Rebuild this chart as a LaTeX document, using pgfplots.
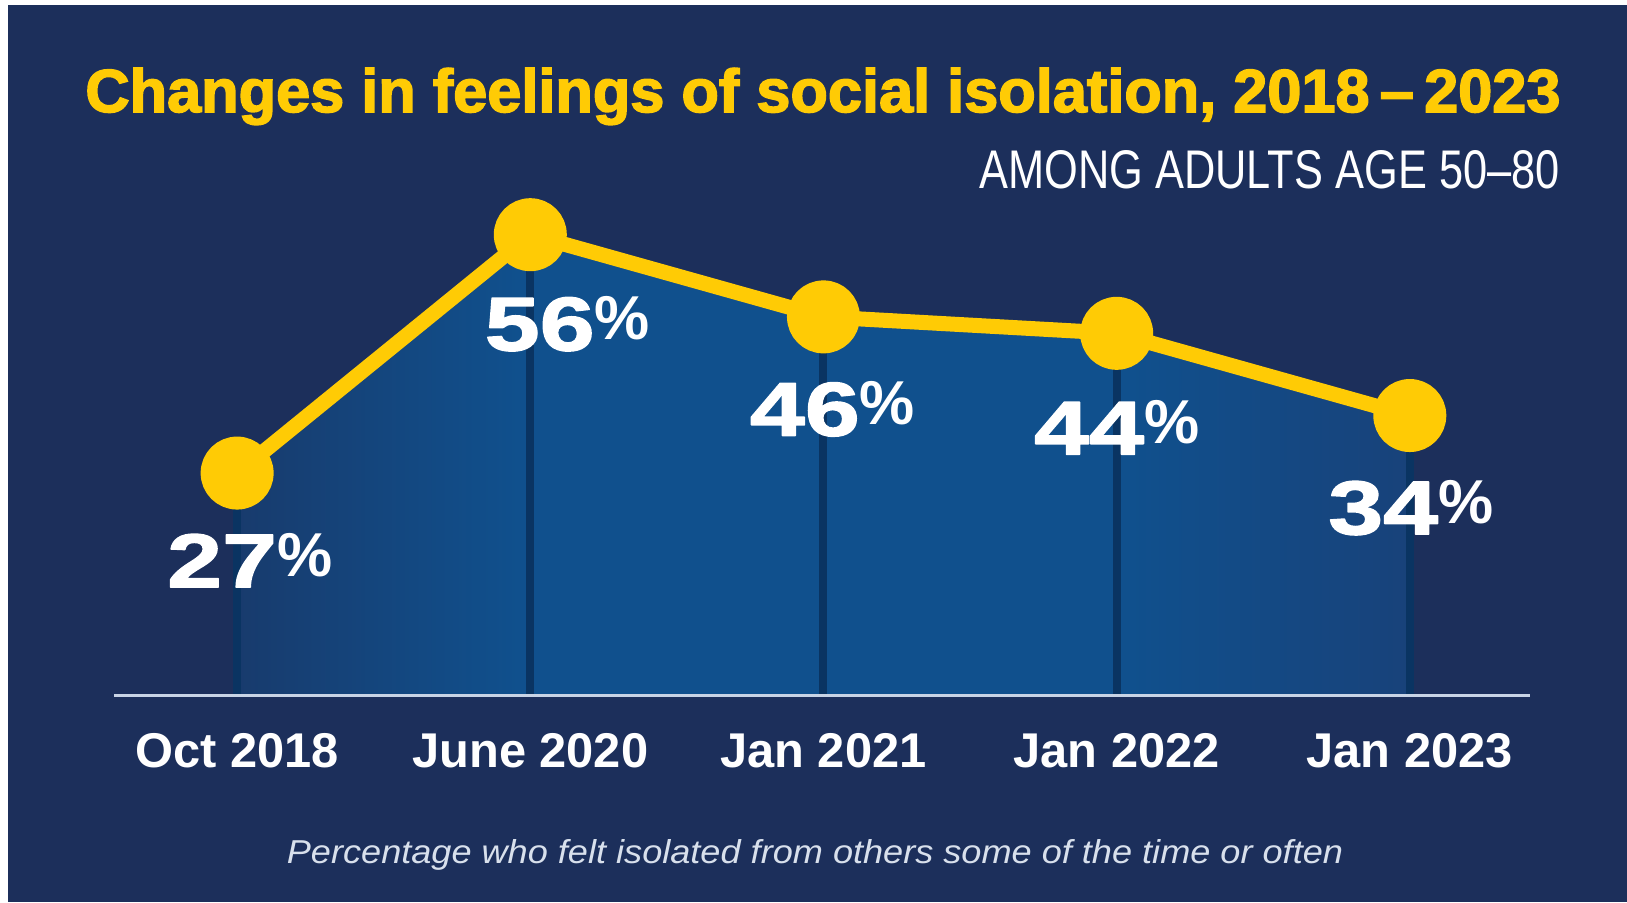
\documentclass[border=0pt]{standalone}
\usepackage{pgfplots}
\pgfplotsset{compat=1.18}
\usepackage{pgfplotstable}
\usepackage{graphicx}
\usepackage{fontspec}
\setmainfont{Liberation Sans}
\newfontfamily\heavyfont{Liberation Sans}[BoldFeatures={FakeBold=2.5}]
\newfontfamily\labelfont{Liberation Sans}[BoldFeatures={FakeBold=2,FakeStretch=1.3}]
\newfontfamily\pctfont{Liberation Sans}

\definecolor{bgnavy}{HTML}{1C2F5B}
\definecolor{maize}{HTML}{FFCB05}
\definecolor{areaL}{HTML}{183B6D}
\definecolor{areaM}{HTML}{10508D}
\definecolor{areaR}{HTML}{18427A}
\definecolor{combcol}{HTML}{0A3462}
\definecolor{axiscol}{HTML}{C8D4E6}
\definecolor{foot}{HTML}{D8E0EC}

\pgfdeclarehorizontalshading{areashade}{100bp}{color(0bp)=(areaL); color(25bp)=(areaL); color(37bp)=(areaM); color(63bp)=(areaM); color(75bp)=(areaR); color(100bp)=(areaR)}

\pgfplotstableread{
x y dx dy
0 27 6.25 43.5
1 56 18.5 44.5
2 46 4.5 46
3 44 0 47
4 34 0.5 46
}\datatable

\begin{document}
\begin{tikzpicture}
\fill[white] (0,0) rectangle (813.5pt,451pt);
\fill[bgnavy] (4pt,0) rectangle (813.5pt,448.5pt);
\begin{axis}[
  at={(57pt,103.5pt)}, anchor=south west,
  scale only axis, width=708pt, height=246.6pt,
  xmin=-0.42, xmax=4.41, ymin=0, ymax=60,
  axis x line*=bottom, axis y line=none,
  x axis line style={draw=axiscol, line width=1.5pt, -},
  xtick={0,1,2,3,4},
  xticklabels={Oct 2018, June 2020, Jan 2021, Jan 2022, Jan 2023},
  major tick length=0pt,
  xticklabel style={anchor=base, yshift=-36pt, inner sep=0pt, text=white,
    font=\fontsize{24.4pt}{24.4pt}\selectfont\bfseries},
  clip=false, axis on top,
]
\addplot[draw=none, shading=areashade]
  table[x=x,y=y]{\datatable} \closedcycle;
\addplot[ycomb, draw=combcol, line width=4pt, no markers]
  table[x=x,y=y]{\datatable};
\addplot[color=maize, line width=7.5pt, line join=round,
  mark=*, mark size=14.5pt, mark options={fill=maize, draw=none},
  point meta=explicit symbolic,
  visualization depends on={\thisrow{dx}\as\dx},
  visualization depends on={\thisrow{dy}\as\dy},
  nodes near coords={\labelfont\bfseries\fontsize{38pt}{38pt}\selectfont\pgfplotspointmeta\raisebox{5.5pt}{\pctfont\bfseries\fontsize{31pt}{31pt}\selectfont\%}},
  nodes near coords style={anchor=center, inner sep=0pt, xshift=\dx pt, yshift=-\dy pt, text=white},
] table[x=x,y=y,meta=y]{\datatable};
\end{axis}
\node[anchor=base west, inner sep=0pt] at (42.5pt,395pt)
  {\resizebox{737.5pt}{22pt}{\color{maize}\heavyfont\bfseries Changes in feelings of social isolation, 2018\,–\,2023}};
\node[anchor=base east, inner sep=0pt] at (780pt,356.5pt)
  {\resizebox{290pt}{19pt}{\color{white}AMONG ADULTS AGE 50–80}};
\node[anchor=base, inner sep=0pt] at (407.5pt,19.5pt)
  {\resizebox{528pt}{12pt}{\color{foot}\itshape Percentage who felt isolated from others some of the time or often}};
\end{tikzpicture}
\end{document}
